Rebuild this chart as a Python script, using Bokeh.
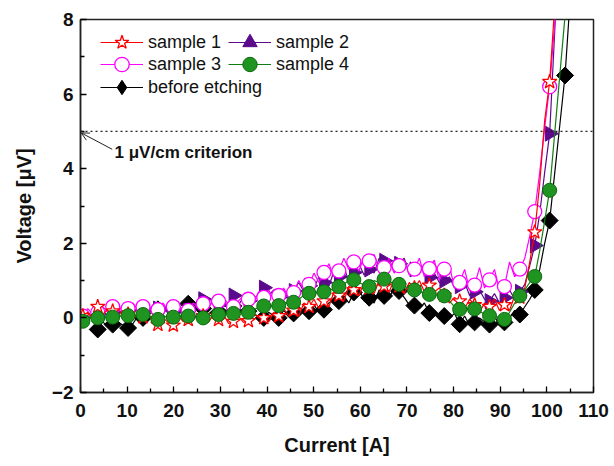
import numpy as np
from bokeh.plotting import figure
from bokeh.models import Legend, LegendItem, Span, Arrow, OpenHead, Label, FixedTicker
from bokeh.embed import file_html
from bokeh.resources import INLINE

# ---------------- data ----------------
# marker currents [A]
cur = [0.5, 3.7, 6.9, 10.2, 13.4, 16.6, 19.9, 23.1, 26.3, 29.6, 32.8, 36.0, 39.3,
       42.5, 45.7, 49.0, 52.2, 55.4, 58.6, 61.9, 65.1, 68.3, 71.6, 74.8, 78.0,
       81.3, 84.5, 87.7, 90.9, 94.2, 97.4, 100.6, 103.9]

# marker voltages [uV]
red_v = [0.05, 0.30, 0.18, 0.10, 0.02, -0.18, -0.20, -0.05, 0.05, -0.05, -0.10, -0.08,
         0.00, 0.05, 0.20, 0.30, 0.45, 0.60, 0.75, 0.80, 0.85, 0.85, 0.80, 0.87,
         0.60, 0.45, 0.35, 0.30, 0.35, 0.55, 2.30, 6.33]
purple_v = [0.05, 0.10, 0.15, 0.20, 0.18, 0.25, 0.15, 0.20, 0.50, 0.35, 0.60, 0.45,
            0.81, 0.55, 0.72, 0.86, 0.95, 1.10, 1.22, 1.30, 1.53, 1.45, 1.30, 1.08,
            1.00, 0.85, 0.70, 0.45, 0.54, 0.70, 1.94, 4.94]
magenta_v = [0.05, 0.15, 0.30, 0.25, 0.30, 0.22, 0.30, 0.20, 0.38, 0.45, 0.30, 0.50,
             0.55, 0.60, 0.68, 0.90, 1.22, 1.26, 1.50, 1.53, 1.35, 1.40, 1.31, 1.32,
             1.31, 0.95, 0.88, 1.02, 0.84, 1.31, 2.85, 6.20]
green_v = [-0.09, 0.00, 0.02, 0.06, 0.09, -0.04, 0.02, 0.05, 0.00, 0.09, 0.12, 0.15,
           0.32, 0.33, 0.42, 0.66, 0.70, 0.84, 1.02, 0.84, 1.04, 0.90, 0.75, 0.63,
           0.59, 0.23, 0.24, 0.06, -0.04, 0.59, 1.11, 3.42]
black_v = [-0.31, -0.18, -0.27, 0.00, 0.23, 0.25, 0.38, 0.25, 0.14, 0.32, 0.18, 0.00,
           0.00, 0.12, 0.18, 0.22, 0.45, 0.68, 0.54, 0.59, 0.72, 0.33, 0.13, 0.05,
           -0.17, -0.12, -0.18, -0.12, 0.09, 0.75, 2.61, 6.50]

# intermediate (noisy) line samples between consecutive markers
red_mid = [(0.15, 0.0), (0.1, 0.22), (0.05, 0.2), (-0.05, 0.12), (0.1, -0.1), (0.0, -0.12),
           (0.05, -0.1), (0.1, 0.0), (-0.12, 0.08), (0.1, -0.15), (0.05, -0.12), (0.12, 0.0),
           (-0.1, 0.15), (0.25, 0.05), (0.05, 0.4), (0.5, 0.25), (0.3, 0.7), (0.45, 0.85),
           (0.6, 0.95), (0.65, 1.0), (0.7, 1.0), (0.65, 0.95), (1.0, 0.7), (0.7, 0.8),
           (0.4, 0.55), (0.25, 0.5), (0.15, 0.4), (0.5, 0.2), (0.2, 0.6), (0.8, 1.5), (3.6, 5.3)]
purple_mid = [(0.15, 0.0), (0.2, 0.05), (0.25, 0.1), (0.1, 0.3), (0.3, 0.1), (0.35, 0.1),
              (0.3, 0.1), (0.35, 0.25), (0.3, 0.45), (0.45, 0.3), (0.35, 0.55), (0.6, 0.5),
              (0.6, 0.75), (0.75, 0.5), (0.95, 0.7), (0.8, 1.1), (0.85, 1.25), (1.35, 1.0),
              (1.45, 1.15), (1.2, 1.6), (1.3, 1.55), (1.6, 1.2), (1.25, 1.4), (1.2, 0.95),
              (1.1, 0.8), (0.95, 0.6), (0.75, 0.5), (0.65, 0.4), (0.75, 0.5), (0.9, 1.4), (2.8, 3.9)]
magenta_mid = [(0.25, 0.1), (0.3, 0.15), (0.15, 0.35), (0.4, 0.2), (0.15, 0.35), (0.4, 0.2),
               (0.35, 0.15), (0.4, 0.3), (0.25, 0.5), (0.55, 0.35), (0.45, 0.6), (0.4, 0.7),
               (0.75, 0.5), (0.8, 0.55), (1.0, 0.75), (1.2, 0.95), (1.45, 1.1), (1.6, 1.3),
               (1.25, 1.65), (1.7, 1.3), (1.6, 1.2), (1.55, 1.15), (1.6, 1.1), (1.55, 1.0),
               (1.4, 0.8), (1.3, 0.75), (1.35, 0.8), (1.3, 0.75), (1.5, 1.1), (1.6, 2.2), (3.9, 5.1)]
green_mid = [(0.05, -0.05), (0.08, -0.03), (0.0, 0.1), (0.02, 0.12), (0.0, 0.05), (0.08, -0.02),
             (0.1, 0.0), (0.08, -0.02), (0.1, 0.02), (0.05, 0.15), (0.2, 0.1), (0.22, 0.28),
             (0.25, 0.38), (0.45, 0.35), (0.5, 0.6), (0.6, 0.75), (0.8, 0.72), (0.9, 1.0),
             (0.95, 0.88), (1.0, 0.95), (0.98, 0.92), (0.85, 0.8), (0.72, 0.65), (0.6, 0.62),
             (0.45, 0.3), (0.3, 0.2), (0.18, 0.1), (0.05, 0.0), (0.15, 0.4), (0.75, 0.95), (1.8, 2.6)]
black_mid = [(-0.1, -0.25), (-0.1, -0.2), (-0.15, 0.05), (0.1, 0.15), (0.1, 0.3), (0.15, 0.3),
             (0.2, 0.35), (0.1, 0.2), (0.25, 0.15), (0.3, 0.1), (0.1, 0.05), (0.15, 0.05),
             (0.2, 0.05), (0.3, 0.15), (0.35, 0.15), (0.4, 0.5), (0.6, 0.4), (0.8, 0.45),
             (0.4, 0.75), (0.5, 0.85), (0.55, 0.35), (0.25, 0.4), (0.2, -0.02), (0.0, 0.12),
             (0.05, -0.2), (0.0, -0.1), (0.05, -0.2), (0.0, 0.2), (0.3, 0.5), (1.3, 2.0), (3.9, 5.2)]

# last line sample of each curve, beyond the top of the axis
red_end = (102.5, 9.9)
purple_end = (102.4, 9.5)
magenta_end = (102.4, 9.0)
green_end = (104.6, 9.1)
black_end = (105.5, 9.5)


def build_line(xs, vs, mids, end):
    lx, lv = [], []
    for i in range(len(vs) - 1):
        d = xs[i + 1] - xs[i]
        lx += [xs[i], xs[i] + d / 3, xs[i] + 2 * d / 3]
        lv += [vs[i], mids[i][0], mids[i][1]]
    lx += [xs[-1], end[0]]
    lv += [vs[-1], end[1]]
    return lx, lv


FONT = "Liberation Sans"

p = figure(width=614, height=466, x_range=(0, 110), y_range=(-2, 8),
           output_backend="svg", toolbar_location=None,
           min_border_left=80, min_border_top=19, min_border_right=21, min_border_bottom=74)
p.xgrid.visible = False
p.ygrid.visible = False
p.outline_line_color = "#222222"
p.outline_line_width = 1.5

BLACK_MK = dict(fill_color="#000000", line_color="#000000")
series = [
    ("before etching", cur[1:33], black_v, black_mid, black_end, "#000000",
     dict(marker="square", size=12, angle=np.pi / 4, **BLACK_MK)),
    ("sample 2", cur[0:32], purple_v, purple_mid, purple_end, "#5b0a8c",
     dict(marker="triangle", size=15, angle=-np.pi / 2, fill_color="#5b0a8c", line_color="#5b0a8c")),
    ("sample 3", cur[0:32], magenta_v, magenta_mid, magenta_end, "#ff00ff",
     dict(marker="circle", size=14, fill_color="white", line_color="#ff00ff", line_width=1.3)),
    ("sample 1", cur[0:32], red_v, red_mid, red_end, "#ff0000",
     dict(marker="star", size=15, fill_color="white", line_color="#ff0000", line_width=1.3)),
    ("sample 4", cur[0:32], green_v, green_mid, green_end, "#0f7d12",
     dict(marker="circle", size=14, fill_color="#1f9421", line_color="#0b6a0d", line_width=1)),
]

renderers = {}
for name, xs, vs, mids, end, col, mk in series:
    lx, lv = build_line(xs, vs, mids, end)
    ln = p.line(lx, lv, line_color=col, line_width=1.2)
    sc = p.scatter(xs, vs, **mk)
    renderers[name] = [ln, sc]

# legend glyphs are never rotated: a zero-size diamond proxy on the same data
# gives the legend its diamond symbol without drawing anything in the plot
bl_line = renderers["before etching"][0]
bl_proxy = p.scatter(cur[1:33], black_v, marker="diamond", size=0, **BLACK_MK)
renderers["before etching"] = [bl_line, bl_proxy]

# axes
p.xaxis.ticker = FixedTicker(ticks=list(range(0, 111, 10)), minor_ticks=list(range(5, 110, 10)))
p.yaxis.ticker = FixedTicker(ticks=[-2, 0, 2, 4, 6, 8], minor_ticks=[-1, 1, 3, 5, 7])
for ax in (p.xaxis[0], p.yaxis[0]):
    ax.axis_line_width = 1.5
    ax.axis_line_color = "#222222"
    ax.major_tick_in = 6
    ax.major_tick_out = 0
    ax.minor_tick_in = 4
    ax.minor_tick_out = 0
    ax.major_tick_line_width = 1.3
    ax.minor_tick_line_width = 1.3
    ax.major_label_text_font = FONT
    ax.major_label_text_font_style = "bold"
    ax.major_label_text_font_size = "19px"
    ax.major_label_text_color = "#111111"
    ax.axis_label_text_font = FONT
    ax.axis_label_text_font_style = "bold"
    ax.axis_label_text_font_size = "20px"
    ax.axis_label_text_color = "#111111"
p.xaxis.axis_label = "Current [A]"
p.yaxis.axis_label = "Voltage [μV]"
p.xaxis.major_label_standoff = 11
p.yaxis.major_label_standoff = 7
p.xaxis.axis_label_standoff = 14
p.yaxis.axis_label_standoff = 14

# criterion
p.add_layout(Span(location=5, dimension="width", line_color="#222222",
                  line_dash="2 3", line_width=1.2))
p.add_layout(Arrow(end=OpenHead(size=8, line_width=1, line_color="#222222"),
                   x_start=6.8, y_start=4.52, x_end=0.15, y_end=4.96,
                   line_width=1, line_color="#222222"))
p.add_layout(Label(x=7.3, y=4.43, text="1 μV/cm criterion", text_font=FONT,
                   text_font_style="bold", text_font_size="17px",
                   text_baseline="middle", text_color="#111111"))

# legend: one single-item legend per entry, laid out in two columns
LEG = dict(padding=0, margin=0, glyph_width=43, glyph_height=36, label_standoff=5,
           spacing=0, label_text_font=FONT, label_text_font_size="18px",
           label_text_color="#111111", background_fill_alpha=0, border_line_alpha=0)
legend_layout = [("sample 1", 20, 332), ("sample 2", 148, 332),
                 ("sample 3", 20, 310), ("sample 4", 148, 310),
                 ("before etching", 20, 287)]
for name, lx, ly in legend_layout:
    p.add_layout(Legend(items=[LegendItem(label=name, renderers=renderers[name])],
                        location=(lx, ly), **LEG))

open("out.html", "w").write(file_html(p, INLINE))
